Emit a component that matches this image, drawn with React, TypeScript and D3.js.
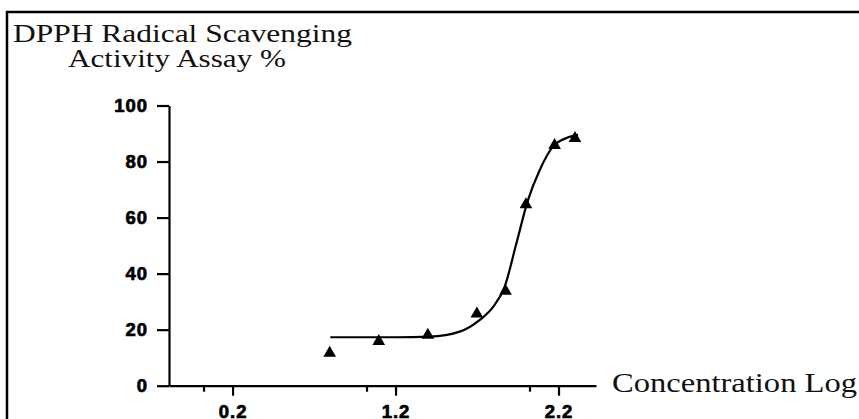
import React, { useEffect, useRef } from 'react';
import * as d3 from 'd3';

// log concentration and scavenging activity (%)
const logConc = [0.796, 1.097, 1.398, 1.699, 1.875, 2.0, 2.176, 2.301];
const activity = [12.1, 16.3, 18.5, 26.1, 34.2, 65.1, 86.2, 88.7];

// fitted curve
const fitX = [0.8, 1.2, 1.41, 1.594, 1.717, 1.8, 1.87, 1.942, 2.013, 2.085, 2.167, 2.249, 2.32];
const fitY = [17.3, 17.3, 17.5, 19.3, 23.5, 28.2, 35.4, 50.9, 66.3, 77, 85.4, 88.4, 89.5];

const xMajorTicks = [0.2, 1.2, 2.2];
const xMinorTicks = [0.025, 1.025, 2.025];
const yTicks = [0, 20, 40, 60, 80, 100];

const W = 859;
const H = 419;

export default function App() {
    const ref = useRef<SVGSVGElement>(null);

    useEffect(() => {
        const svg = d3.select(ref.current);
        svg.selectAll("*").remove();

        svg.append("rect").attr("width", W).attr("height", H).attr("fill", "#fff");

        // frame (only top and left edges are visible)
        svg.append("path")
            .attr("d", `M7,${H} L7,12 L${W},12`)
            .attr("fill", "none")
            .attr("stroke", "#000")
            .attr("stroke-width", 2.5);

        const x = d3.scaleLinear().domain([-0.19, 2.43]).range([169, 596]);
        const y = d3.scaleLinear().domain([0, 100]).range([385.7, 105.5]);

        const tickFont = "'Liberation Sans', Arial, sans-serif";
        const styleTicks = (g: any) => {
            g.select(".domain").attr("stroke-width", 2.2);
            g.selectAll(".tick line").attr("stroke-width", 2.2);
            g.selectAll("text")
                .attr("font-family", tickFont)
                .attr("font-weight", "bold")
                .attr("font-size", 18.5)
                .attr("letter-spacing", 1)
                .attr("fill", "#000")
                .attr("stroke", "#000")
                .attr("stroke-width", 0.7);
        };

        svg.append("g")
            .attr("transform", `translate(${x.range()[0]},0)`)
            .call(d3.axisLeft(y).tickValues(yTicks).tickSize(12).tickPadding(9).tickSizeOuter(0))
            .call(styleTicks);

        svg.append("g")
            .attr("transform", `translate(0,${y(0)})`)
            .call(d3.axisBottom(x).tickValues(xMajorTicks).tickFormat(d3.format(".1f")).tickSize(10).tickPadding(9).tickSizeOuter(0))
            .call(styleTicks);

        svg.append("g")
            .selectAll("line")
            .data(xMinorTicks)
            .enter().append("line")
            .attr("x1", d => x(d))
            .attr("x2", d => x(d))
            .attr("y1", y(0))
            .attr("y2", y(0) + 6)
            .attr("stroke", "#000")
            .attr("stroke-width", 2.2);

        const line = d3.line<number>()
            .x((d, i) => x(fitX[i]))
            .y(d => y(d))
            .curve(d3.curveMonotoneX);

        svg.append("path")
            .datum(fitY)
            .attr("d", line)
            .attr("fill", "none")
            .attr("stroke", "#000")
            .attr("stroke-width", 2.2);

        const tri = d3.symbol().type(d3.symbolTriangle).size(70);
        svg.append("g")
            .selectAll("path")
            .data(logConc)
            .enter().append("path")
            .attr("d", tri)
            .attr("transform", (d, i) => `translate(${x(d)},${y(activity[i]) + 1.2})`)
            .attr("fill", "#000");

        const serif = "'Liberation Serif', 'Times New Roman', serif";

        svg.append("text")
            .attr("x", 13)
            .attr("y", 42)
            .attr("font-family", serif)
            .attr("font-size", 25)
            .attr("textLength", 339)
            .attr("lengthAdjust", "spacingAndGlyphs")
            .attr("fill", "#111")
            .text("DPPH Radical Scavenging");

        svg.append("text")
            .attr("x", 68)
            .attr("y", 67)
            .attr("font-family", serif)
            .attr("font-size", 25)
            .attr("textLength", 218)
            .attr("lengthAdjust", "spacingAndGlyphs")
            .attr("fill", "#111")
            .text("Activity Assay %");

        svg.append("text")
            .attr("x", 612)
            .attr("y", 392)
            .attr("font-family", serif)
            .attr("font-size", 27)
            .attr("textLength", 245)
            .attr("lengthAdjust", "spacingAndGlyphs")
            .attr("fill", "#111")
            .text("Concentration Log");
    }, []);

    return (
        <svg
            ref={ref}
            width={W}
            height={H}
            style={{ position: 'absolute', left: 0, top: 0, display: 'block' }}
        ></svg>
    );
}
